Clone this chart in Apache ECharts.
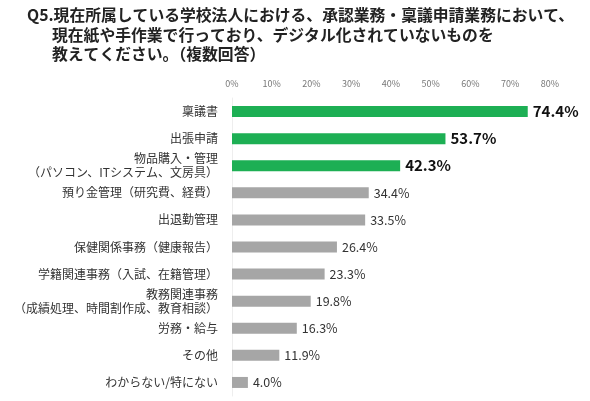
<!DOCTYPE html>
<html>
<head>
<meta charset="utf-8">
<script src="https://cdn.jsdelivr.net/npm/echarts@6/dist/echarts.min.js"></script>
<style>
html,body{margin:0;padding:0;background:#fff;}
#main{width:590px;height:401px;}
</style>
</head>
<body>
<div id="main"></div>
<script>
var categories = ['稟議書', '出張申請', '物品購入・管理\n（パソコン、ITシステム、文房具）', '預り金管理（研究費、経費）', '出退勤管理',
	'保健関係事務（健康報告）', '学籍関連事務（入試、在籍管理）', '教務関連事務\n（成績処理、時間割作成、教育相談）', '労務・給与', 'その他', 'わからない/特にない'];
var values = [74.4, 53.7, 42.3, 34.4, 33.5, 26.4, 23.3, 19.8, 16.3, 11.9, 4.0];
var topCount = 3; // highlighted (green) items
var tickLabels = ['0%', '10%', '20%', '30%', '40%', '50%', '60%', '70%', '80%'];

var myChart = echarts.init(document.getElementById('main'));
var font = '"Noto Sans CJK JP", sans-serif';

var data = values.map(function(v, i){
	var top = i < topCount;
	return {
		value: v,
		itemStyle: {color: top ? '#1daf54' : '#a6a6a6'},
		label: {
			fontSize: top ? 15 : 12.5,
			fontWeight: top ? 'bold' : 'normal',
			color: top ? '#111' : '#333'
		}
	};
});

var option = {
	backgroundColor: '#fff',
	animation: false,
	graphic: [
		{type: 'text', left: 27, top: 7, style: {text: 'Q5.現在所属している学校法人における、承認業務・稟議申請業務において、', font: 'bold 15.8px ' + font, fill: '#222'}},
		{type: 'text', left: 52, top: 27, style: {text: '現在紙や手作業で行っており、デジタル化されていないものを', font: 'bold 15.8px ' + font, fill: '#222'}},
		{type: 'text', left: 52, top: 46, style: {text: '教えてください。（複数回答）', font: 'bold 15.8px ' + font, fill: '#222'}}
	],
	grid: {left: 232, right: 40, top: 98, bottom: 5, containLabel: false},
	xAxis: {
		type: 'value',
		position: 'top',
		min: 0,
		max: 80,
		interval: 10,
		splitLine: {show: false},
		axisLine: {show: false},
		axisTick: {show: false},
		axisLabel: {
			color: '#777', fontSize: 9, fontFamily: font, margin: 10,
			formatter: function(v){ return tickLabels[Math.round(v / 10)]; }
		}
	},
	yAxis: {
		type: 'category',
		inverse: true,
		data: categories,
		axisLine: {show: true, lineStyle: {color: '#eeeeee'}},
		axisTick: {show: false},
		axisLabel: {color: '#333', fontSize: 12, fontFamily: font, margin: 14, lineHeight: 14, align: 'right'}
	},
	series: [{
		type: 'bar',
		data: data,
		barWidth: 11,
		label: {
			show: true,
			position: 'right',
			distance: 5,
			fontFamily: font,
			formatter: function(p){ return p.value.toFixed(1) + '%'; }
		}
	}]
};
myChart.setOption(option, true);
</script>
</body>
</html>
